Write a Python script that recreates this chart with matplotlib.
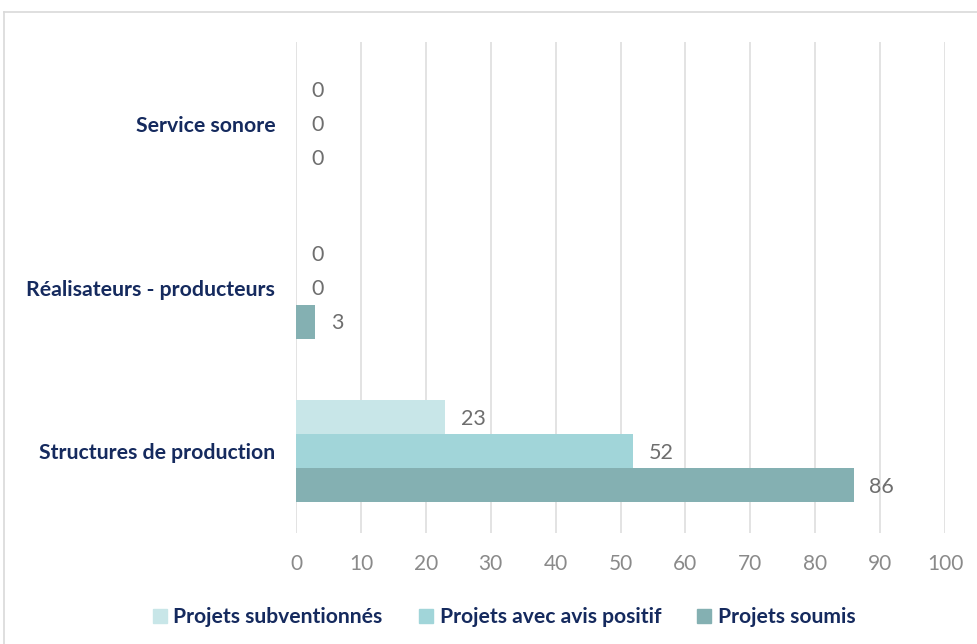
import matplotlib
matplotlib.use("Agg")
import matplotlib.pyplot as plt
from matplotlib.lines import Line2D
import numpy as np

categories = ["Structures de production", "Réalisateurs - producteurs", "Service sonore"]
series_names = ["Projets subventionnés", "Projets avec avis positif", "Projets soumis"]
subventionnes = [23, 0, 0]
avis_positif = [52, 0, 0]
soumis = [86, 3, 0]
x_ticks = [0, 10, 20, 30, 40, 50, 60, 70, 80, 90, 100]

colors = ["#C8E6E8", "#A1D5D9", "#84B0B2"]
navy = "#152A5E"
plt.rcParams['font.family'] = ['Lato', 'DejaVu Sans']

fig = plt.figure(figsize=(9.78, 6.44), dpi=100)
ax = fig.add_axes([296/978, 1-533/644, (945-296)/978, (533-42)/644])

y = np.arange(len(categories))
h = 0.208
series = [subventionnes, avis_positif, soumis]
offsets = [h, 0, -h]
for vals, off, c in zip(series, offsets, colors):
    bars = ax.barh(y + off, vals, height=h, color=c, zorder=3)
    for b, v in zip(bars, vals):
        ax.annotate(str(v), (b.get_width(), b.get_y() + b.get_height()/2),
                    xytext=(11, -1), textcoords='offset points',
                    ha='left', va='center', fontsize=15.5, color='#6E6E6E')

ax.set_xlim(0, 100)
ax.set_ylim(-0.5, 2.5)
ax.set_xticks(x_ticks)
ax.set_xticklabels([str(t) for t in x_ticks], fontsize=15, color='#8A8A8A')
ax.set_yticks(y)
ax.set_yticklabels(categories, fontsize=15.3, fontweight='bold', color=navy)
ax.tick_params(axis='x', length=0, pad=15)
ax.tick_params(axis='y', length=0, pad=15)
ax.grid(axis='x', color='#E0E0E0', linewidth=1.3, zorder=0)
for s in ax.spines.values():
    s.set_visible(False)

handles = [Line2D([0], [0], marker='s', linestyle='none', markersize=10,
                  markerfacecolor=c, markeredgecolor=c) for c in colors]
leg = fig.legend(handles, series_names, loc='center', bbox_to_anchor=(504/978, 1-617/644),
                 ncol=3, frameon=False, handlelength=0.7, handletextpad=0.3, columnspacing=1.7,
                 prop={'family': 'Lato', 'weight': 'bold', 'size': 15.2})
for t in leg.get_texts():
    t.set_color(navy)

# chart border
fig.add_artist(Line2D([4/978, 4/978], [0, 1-12/644], transform=fig.transFigure, color='#D9D9D9', linewidth=1.2))
fig.add_artist(Line2D([4/978, 1], [1-12/644, 1-12/644], transform=fig.transFigure, color='#D9D9D9', linewidth=1.2))

fig.savefig("out.png", dpi=100, facecolor='white')
